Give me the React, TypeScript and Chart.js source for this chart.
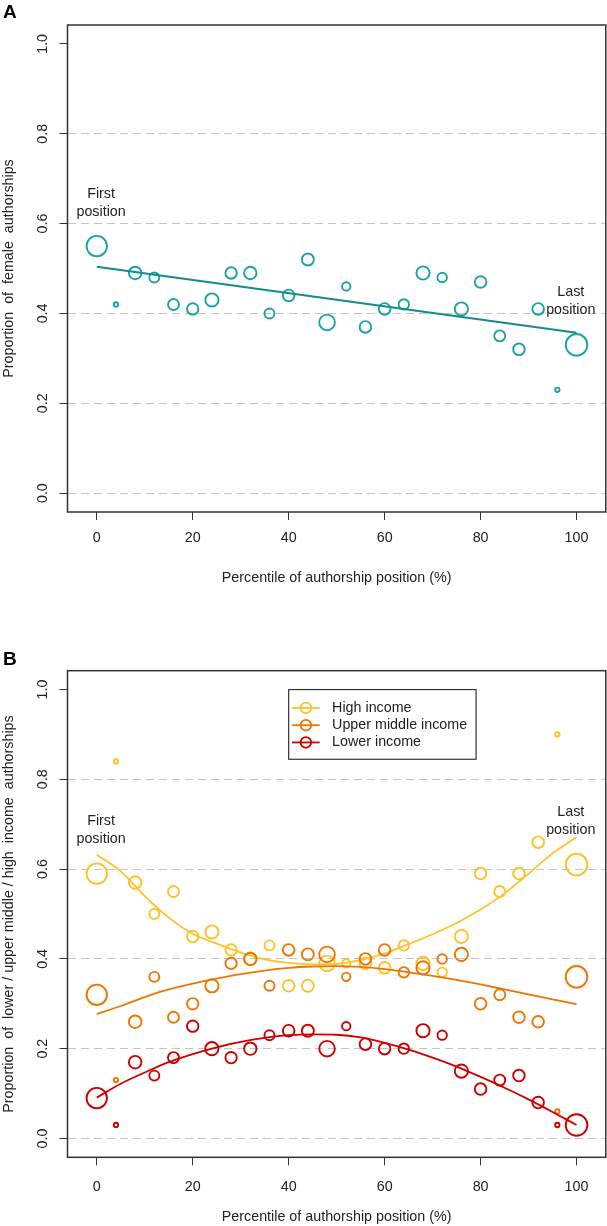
import React, { useEffect, useRef } from "react";
import { Chart, registerables } from "chart.js";

Chart.register(...registerables);

// ---------- data ----------
const positions = [0, 4, 8, 12, 16, 20, 24, 28, 32, 36, 40, 44, 48, 52, 56, 60, 64, 68, 72, 76, 80, 84, 88, 92, 96, 100];
const pointRadii = [10.2, 2.2, 6.3, 5.0, 5.5, 5.7, 6.6, 5.7, 6.2, 5.0, 5.8, 6.0, 7.8, 4.2, 5.8, 5.8, 5.2, 6.6, 4.7, 6.6, 5.8, 5.5, 5.8, 5.8, 2.2, 10.8];

const femaleProp = [0.55, 0.42, 0.49, 0.48, 0.42, 0.41, 0.43, 0.49, 0.49, 0.40, 0.44, 0.52, 0.38, 0.46, 0.37, 0.41, 0.42, 0.49, 0.48, 0.41, 0.47, 0.35, 0.32, 0.41, 0.23, 0.33];
const femaleFitX = [0, 100];
const femaleFit = [0.504, 0.357];

const highIncome = [0.59, 0.84, 0.57, 0.50, 0.55, 0.45, 0.46, 0.42, 0.40, 0.43, 0.34, 0.34, 0.39, 0.39, 0.39, 0.38, 0.43, 0.39, 0.37, 0.45, 0.59, 0.55, 0.59, 0.66, 0.90, 0.61];
const upperMiddle = [0.32, 0.13, 0.26, 0.36, 0.27, 0.30, 0.34, 0.39, 0.40, 0.34, 0.42, 0.41, 0.41, 0.36, 0.40, 0.42, 0.37, 0.38, 0.40, 0.41, 0.30, 0.32, 0.27, 0.26, 0.06, 0.36];
const lowerIncome = [0.09, 0.03, 0.17, 0.14, 0.18, 0.25, 0.20, 0.18, 0.20, 0.23, 0.24, 0.24, 0.20, 0.25, 0.21, 0.20, 0.20, 0.24, 0.23, 0.15, 0.11, 0.13, 0.14, 0.08, 0.03, 0.03];

const fitX = [0, 5, 10, 15, 20, 25, 30, 35, 40, 45, 50, 55, 60, 65, 70, 75, 80, 85, 90, 95, 100];
const fitHigh = [0.632, 0.595, 0.540, 0.492, 0.456, 0.434, 0.414, 0.399, 0.391, 0.388, 0.389, 0.397, 0.412, 0.433, 0.455, 0.480, 0.510, 0.546, 0.590, 0.635, 0.671];
const fitUpper = [0.277, 0.295, 0.315, 0.332, 0.345, 0.356, 0.366, 0.374, 0.380, 0.383, 0.384, 0.382, 0.377, 0.370, 0.362, 0.353, 0.343, 0.332, 0.321, 0.310, 0.299];
const fitLower = [0.091, 0.122, 0.147, 0.170, 0.188, 0.203, 0.215, 0.224, 0.230, 0.232, 0.231, 0.225, 0.213, 0.198, 0.180, 0.160, 0.137, 0.113, 0.087, 0.059, 0.030];

const xTickValues = [0, 20, 40, 60, 80, 100];
const yTickValues = [0, 0.2, 0.4, 0.6, 0.8, 1.0];

const seriesLabels = ["High income", "Upper middle income", "Lower income"];

// ---------- style ----------
const FONT = '"Liberation Sans", Arial, Helvetica, sans-serif';
const FS = 14.3;
const TEXT = "#222222";
const AXIS = "#333333";
const TEAL = "#1AA3A3";
const TEAL_LINE = "#148C8C";
const YELLOW = "#FFC125";
const ORANGE = "#EE7600";
const RED = "#CD0000";
const W = 607;
const H = 613;

const toXY = (xs: number[], ys: number[]) => xs.map((x, i) => ({ x, y: ys[i] }));

const decorPlugin = {
  id: "decor",
  afterDraw(chart: any, _args: any, opts: any) {
    const ctx = chart.ctx;
    const { left, right, top, bottom } = chart.chartArea;
    const xs = chart.scales.x;
    const ys = chart.scales.y;
    ctx.save();
    // frame
    ctx.strokeStyle = AXIS;
    ctx.lineWidth = 1.5;
    ctx.strokeRect(left, top, right - left, bottom - top);
    // y tick labels (rotated, R style)
    ctx.fillStyle = TEXT;
    ctx.font = `${FS}px ${FONT}`;
    ctx.textAlign = "center";
    ctx.textBaseline = "middle";
    for (const t of ys.ticks) {
      const py = ys.getPixelForValue(t.value);
      ctx.save();
      ctx.translate(opts.yLabelX, py);
      ctx.rotate(-Math.PI / 2);
      ctx.fillText(Number(t.value).toFixed(1), 0, 0);
      ctx.restore();
    }
    // annotations
    for (const n of opts.notes || []) {
      const px = xs.getPixelForValue(n.x);
      const py = ys.getPixelForValue(n.y);
      n.lines.forEach((l: string, i: number) => {
        ctx.fillText(l, px, py + (i - (n.lines.length - 1) / 2) * 18);
      });
    }
    // panel letter
    ctx.fillStyle = "#000";
    ctx.font = `bold 19px ${FONT}`;
    ctx.textAlign = "left";
    ctx.textBaseline = "alphabetic";
    ctx.fillText(opts.letter, 3, opts.letterBaseline);
    // legend
    if (opts.legend) {
      const lx = xs.getPixelForValue(opts.legend.x);
      const ly = ys.getPixelForValue(opts.legend.y);
      ctx.fillStyle = "#fff";
      ctx.fillRect(lx, ly, 187.4, 69.7);
      ctx.strokeStyle = AXIS;
      ctx.lineWidth = 1.2;
      ctx.strokeRect(lx, ly, 187.4, 69.7);
      ctx.font = `${FS}px ${FONT}`;
      ctx.textBaseline = "middle";
      opts.legend.items.forEach((it: any, i: number) => {
        const ry = ly + 18.4 + i * 17.25;
        ctx.strokeStyle = it.color;
        ctx.lineWidth = 1.8;
        ctx.beginPath();
        ctx.moveTo(lx + 3.4, ry);
        ctx.lineTo(lx + 31, ry);
        ctx.stroke();
        ctx.beginPath();
        ctx.arc(lx + 17.2, ry, 5.3, 0, Math.PI * 2);
        ctx.stroke();
        ctx.fillStyle = TEXT;
        ctx.fillText(it.label, lx + 43.4, ry);
      });
    }
    ctx.restore();
  },
};

function makeScales(o: {
  yTitle: string;
  xAxisHeight: number;
  xTickPad: number;
  xTitlePad: number;
}) {
  return {
    x: {
      type: "linear",
      min: -6.1,
      max: 106.1,
      afterBuildTicks: (s: any) => {
        s.ticks = xTickValues.map((v) => ({ value: v }));
      },
      afterFit: (s: any) => {
        s.height = o.xAxisHeight;
        s.paddingLeft = 0;
        s.paddingRight = 0;
      },
      grid: {
        drawOnChartArea: false,
        drawTicks: true,
        tickLength: 8,
        tickColor: AXIS,
        tickWidth: 1,
      },
      border: { display: false },
      ticks: {
        color: TEXT,
        font: { family: FONT, size: FS },
        padding: o.xTickPad,
        autoSkip: false,
        maxRotation: 0,
        minRotation: 0,
      },
      title: {
        display: true,
        text: "Percentile of authorship position (%)",
        color: TEXT,
        font: { family: FONT, size: FS },
        padding: { top: 0, bottom: o.xTitlePad },
      },
    },
    y: {
      type: "linear",
      min: -0.042,
      max: 1.042,
      afterBuildTicks: (s: any) => {
        s.ticks = yTickValues.map((v) => ({ value: v }));
      },
      afterFit: (s: any) => {
        s.width = 67.5;
        s.paddingTop = 0;
        s.paddingBottom = 0;
      },
      grid: {
        drawOnChartArea: true,
        color: (c: any) => (c.tick && c.tick.value < 0.99 ? "#C4C4C4" : "rgba(0,0,0,0)"),
        lineWidth: 1,
        drawTicks: true,
        tickLength: 8,
        tickColor: AXIS,
        tickWidth: 1,
      },
      border: { display: false, dash: [8, 5] },
      ticks: { display: false },
      title: {
        display: true,
        text: o.yTitle,
        color: TEXT,
        font: { family: FONT, size: FS },
        padding: { top: 0, bottom: 0 },
      },
    },
  };
}

function scatterSet(label: string, ys: number[], color: string, order: number) {
  return {
    type: "scatter",
    label,
    data: toXY(positions, ys),
    borderColor: color,
    backgroundColor: "rgba(0,0,0,0)",
    pointBackgroundColor: "rgba(0,0,0,0)",
    pointBorderColor: color,
    pointBorderWidth: 1.9,
    pointRadius: pointRadii,
    pointHoverRadius: pointRadii,
    pointStyle: "circle",
    order,
  };
}

function lineSet(label: string, xs: number[], ys: number[], color: string, width: number, order: number) {
  return {
    type: "line",
    label,
    data: toXY(xs, ys),
    borderColor: color,
    borderWidth: width,
    pointRadius: 0,
    fill: false,
    cubicInterpolationMode: "monotone",
    order,
  };
}

export default function App() {
  const refA = useRef<HTMLCanvasElement>(null);
  const refB = useRef<HTMLCanvasElement>(null);

  useEffect(() => {
    const chartA = new Chart(refA.current as HTMLCanvasElement, {
      type: "scatter",
      data: {
        datasets: [
          lineSet("Linear fit", femaleFitX, femaleFit, TEAL_LINE, 2, 0),
          scatterSet("Female authorships", femaleProp, TEAL, 1),
        ] as any,
      },
      options: {
        responsive: false,
        animation: false,
        events: [],
        layout: { autoPadding: false, padding: { left: 0, right: 1.2, top: 25, bottom: 0 } },
        scales: makeScales({
          yTitle: "Proportion  of  female  authorships",
          xAxisHeight: H - 512,
          xTickPad: 9.7,
          xTitlePad: 26.4,
        }) as any,
        plugins: {
          legend: { display: false },
          tooltip: { enabled: false },
          decor: {
            letter: "A",
            letterBaseline: 17.5,
            yLabelX: 42.6,
            notes: [
              { x: 0.9, y: 0.645, lines: ["First", "position"] },
              { x: 98.8, y: 0.427, lines: ["Last", "position"] },
            ],
          },
        } as any,
      },
      plugins: [decorPlugin],
    });

    const chartB = new Chart(refB.current as HTMLCanvasElement, {
      type: "scatter",
      data: {
        datasets: [
          lineSet("High income fit", fitX, fitHigh, YELLOW, 1.8, 6),
          scatterSet(seriesLabels[0], highIncome, YELLOW, 5),
          lineSet("Upper middle income fit", fitX, fitUpper, ORANGE, 1.8, 4),
          scatterSet(seriesLabels[1], upperMiddle, ORANGE, 3),
          lineSet("Lower income fit", fitX, fitLower, RED, 1.8, 2),
          scatterSet(seriesLabels[2], lowerIncome, RED, 1),
        ] as any,
      },
      options: {
        responsive: false,
        animation: false,
        events: [],
        layout: { autoPadding: false, padding: { left: 0, right: 1.2, top: 57.7, bottom: 0 } },
        scales: makeScales({
          yTitle: "Proportion  of  lower / upper middle / high  income  authorships",
          xAxisHeight: H - 544.3,
          xTickPad: 12.8,
          xTitlePad: 0.7,
        }) as any,
        plugins: {
          legend: { display: false },
          tooltip: { enabled: false },
          decor: {
            letter: "B",
            letterBaseline: 52,
            yLabelX: 42.6,
            notes: [
              { x: 0.9, y: 0.686, lines: ["First", "position"] },
              { x: 98.8, y: 0.706, lines: ["Last", "position"] },
            ],
            legend: {
              x: 40,
              y: 1.0,
              items: [
                { label: seriesLabels[0], color: YELLOW },
                { label: seriesLabels[1], color: ORANGE },
                { label: seriesLabels[2], color: RED },
              ],
            },
          },
        } as any,
      },
      plugins: [decorPlugin],
    });

    return () => {
      chartA.destroy();
      chartB.destroy();
    };
  }, []);

  return (
    <div
      style={{
        position: "absolute",
        left: 0,
        top: 0,
        width: W,
        height: 1226,
        background: "#ffffff",
      }}
    >
      <canvas ref={refA} width={W} height={H} style={{ position: "absolute", left: 0, top: 0, width: W, height: H }} />
      <canvas ref={refB} width={W} height={H} style={{ position: "absolute", left: 0, top: H, width: W, height: H }} />
    </div>
  );
}
